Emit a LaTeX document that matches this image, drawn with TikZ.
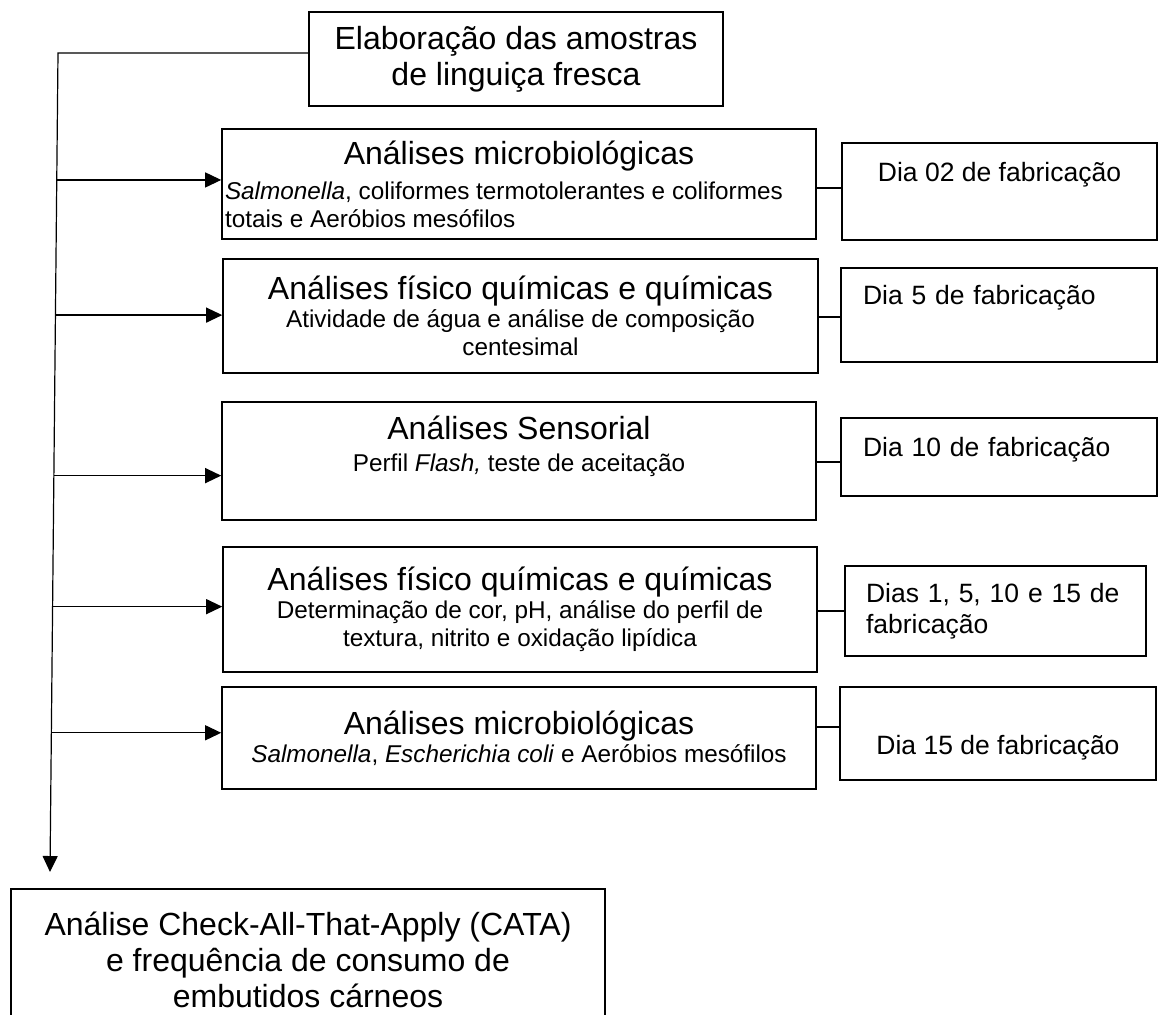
\documentclass[tikz,border=0pt]{standalone}
\usepackage{fontspec}
\setmainfont{Liberation Sans}
\usetikzlibrary{arrows.meta,calc}

\newcommand{\detail}[1]{{\fontsize{12.15}{14}\selectfont #1}}

\begin{document}
\begin{tikzpicture}[x=0.5pt,y=-0.5pt,
  stage/.style={draw,line width=0.8pt,inner sep=0pt,align=center,
    font=\fontsize{16}{14}\selectfont},
  daybox/.style={draw,line width=0.8pt,inner ysep=0pt,
    font=\fontsize{13.25}{15.5}\selectfont},
  link/.style={line width=0.6pt},
  arr/.style={link,-{Triangle[length=8pt,width=7.5pt]}}]
  \useasboundingbox (0,0) rectangle (1161,1014);
  % first and last step
  \node[stage,minimum width=207pt,minimum height=47pt,
    font=\fontsize{16}{18}\selectfont] (elab) at (516,59)
    {Elaboração das amostras\\de linguiça fresca};
  \node[stage,minimum width=297pt,minimum height=71pt,
    font=\fontsize{16}{18}\selectfont] (cata) at (308,960)
    {Análise Check-All-That-Apply (CATA)\\e frequência de consumo de\\embutidos cárneos};
  % analyses
  \node[stage,minimum width=297pt,minimum height=55pt] (m1) at (519,184)
    {Análises microbiológicas\\[3.5pt]
     \detail{\makebox[294pt][l]{\textit{Salmonella}, coliformes termotolerantes e coliformes}}\\
     \detail{\makebox[294pt][l]{totais e Aeróbios mesófilos}}};
  \node[stage,minimum width=297.5pt,minimum height=57pt] (m2) at (520.5,316)
    {Análises físico químicas e químicas\\
     \detail{Atividade de água e análise de composição}\\
     \detail{centesimal}};
  \node[stage,minimum width=297pt,minimum height=59pt] (m3) at (519,461)
    {Análises Sensorial\\[2pt]
     \detail{Perfil \textit{Flash,} teste de aceitação}\\[3.5pt]\mbox{}};
  \node[stage,minimum width=297pt,minimum height=62.5pt] (m4) at (520,609.5)
    {Análises físico químicas e químicas\\
     \detail{Determinação de cor, pH, análise do perfil de}\\
     \detail{textura, nitrito e oxidação lipídica}};
  \node[stage,minimum width=297pt,minimum height=51pt] (m5) at (519,738)
    {Análises microbiológicas\\
     \detail{\textit{Salmonella}, \textit{Escherichia coli} e Aeróbios mesófilos}};
  % days
  \node[daybox,minimum width=157.5pt,inner xsep=0pt,
    text height=19.25pt,text depth=29.25pt] (d1) at (999.5,191.5) {Dia 02 de fabricação};
  \node[daybox,text width=136pt,inner xsep=11pt,align=left,
    text height=18.25pt,text depth=28.75pt] (d2) at (999,315) {Dia 5 de fabricação};
  \node[daybox,text width=136pt,inner xsep=11pt,align=left,
    text height=19.25pt,text depth=19.75pt] (d3) at (999,457) {Dia 10 de fabricação};
  \node[daybox,text width=129.5pt,inner xsep=10.5pt,align=left,
    minimum height=45pt] (d4) at (995.5,611) {Dias 1, 5, 10 e 15 de\\fabricação};
  \node[daybox,minimum width=158pt,inner xsep=0pt,
    text height=33.75pt,text depth=12.75pt] (d5) at (998,733.5) {Dia 15 de fabricação};
  % connectors
  \coordinate (top) at (58,53);
  \coordinate (tip) at (50,872);
  \draw[arr] (top -| elab.west) -- (top) -- (tip);
  \foreach \i/\f in {1/0.155,2/0.320,3/0.516,4/0.676,5/0.830}{
    \coordinate (a\i) at ($(top)!\f!(tip)$);
    \draw[arr] (a\i) -- (a\i -| m\i.west);
  }
  \foreach \i/\y in {1/188,2/317,3/462,4/611,5/727}
    \draw[link] (m\i.east |- 0,\y) -- (d\i.west |- 0,\y);
\end{tikzpicture}
\end{document}
